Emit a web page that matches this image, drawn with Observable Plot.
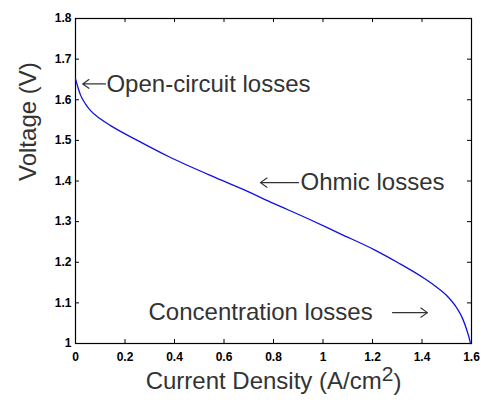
<!DOCTYPE html>
<html>
<head>
<meta charset="utf-8">
<script src="https://cdn.jsdelivr.net/npm/d3@7"></script>
<script src="https://cdn.jsdelivr.net/npm/@observablehq/plot@0.6"></script>
<style>
  html, body { margin: 0; padding: 0; background: #fff; }
  svg { display: block; }
</style>
</head>
<body>
<div id="chart"></div>
<script>
// Polarization curve
const current = [0, 0.01, 0.02, 0.04, 0.06, 0.10, 0.14, 0.25, 0.38, 0.59, 0.67, 0.80, 0.94, 1.07, 1.21, 1.30, 1.41, 1.45, 1.50, 1.54, 1.565, 1.58, 1.59, 1.596];
const voltage = [1.652, 1.630, 1.612, 1.590, 1.574, 1.553, 1.537, 1.500, 1.459, 1.402, 1.381, 1.345, 1.307, 1.270, 1.230, 1.200, 1.160, 1.143, 1.118, 1.088, 1.060, 1.035, 1.015, 1.0];

const xTicks = [0, 0.2, 0.4, 0.6, 0.8, 1, 1.2, 1.4, 1.6];
const xTickLabels = ["0", "0.2", "0.4", "0.6", "0.8", "1", "1.2", "1.4", "1.6"];
const yTicks = [1, 1.1, 1.2, 1.3, 1.4, 1.5, 1.6, 1.7, 1.8];
const yTickLabels = ["1", "1.1", "1.2", "1.3", "1.4", "1.5", "1.6", "1.7", "1.8"];

// Annotations: text anchor positions and arrow ends
const noteText = ["Open-circuit losses", "Ohmic losses", "Concentration losses"];
const noteX = [0.125, 0.909, 0.295];
const noteY = [1.639, 1.396, 1.076];
const arrowX1 = [0.121, 0.901, 1.281];
const arrowX2 = [0.029, 0.747, 1.422];
const arrowY = [1.639, 1.396, 1.076];

const curve = current.map((c, i) => ({c, v: voltage[i]}));
const notes = noteText.map((t, i) => ({t, x: noteX[i], y: noteY[i]}));
const arrows = arrowX1.map((x1, i) => ({x1, x2: arrowX2[i], y: arrowY[i]}));

const W = 482, H = 403;
const mL = 75, mR = 11, mT = 18, mB = 60;
const innerW = W - mL - mR, innerH = H - mT - mB;
const tick = 4;

const chart = Plot.plot({
  width: W,
  height: H,
  marginLeft: mL,
  marginRight: mR,
  marginTop: mT,
  marginBottom: mB,
  style: {fontFamily: "'Liberation Sans', Arial, sans-serif", background: "#fff"},
  x: {domain: [0, 1.6]},
  y: {domain: [1, 1.8]},
  marks: [
    // inward tick marks on all four sides
    Plot.ruleX(xTicks, {x: d => d, stroke: "#000", strokeWidth: 1, insetTop: innerH - tick}),
    Plot.ruleX(xTicks, {x: d => d, stroke: "#000", strokeWidth: 1, insetBottom: innerH - tick}),
    Plot.ruleY(yTicks, {y: d => d, stroke: "#000", strokeWidth: 1, insetRight: innerW - tick}),
    Plot.ruleY(yTicks, {y: d => d, stroke: "#000", strokeWidth: 1, insetLeft: innerW - tick}),
    Plot.frame({stroke: "#000", strokeWidth: 1.2}),
    Plot.axisX({ticks: xTicks, tickFormat: (d, i) => xTickLabels[i], tickSize: 0, tickPadding: 9, fontSize: 12, fontWeight: "bold", fill: "#000", label: null}),
    Plot.axisY({ticks: yTicks, tickFormat: (d, i) => yTickLabels[i], tickSize: 0, tickPadding: 4, fontSize: 12, fontWeight: "bold", fill: "#000", label: null}),
    Plot.line(curve, {x: "c", y: "v", stroke: "#1010e0", strokeWidth: 1.3, curve: "monotone-x"}),
    Plot.arrow(arrows, {x1: "x1", x2: "x2", y1: "y", y2: "y", stroke: "#333", strokeWidth: 1.2, headLength: 10, headAngle: 70}),
    Plot.text(notes, {x: "x", y: "y", text: "t", textAnchor: "start", fontSize: 24, fill: "#333", lineAnchor: "middle"}),
    Plot.text(["Voltage (V)"], {frameAnchor: "left", dx: -47, rotate: -90, fontSize: 24, fill: "#333", text: d => d}),
    Plot.text(["Current Density (A/cm"], {frameAnchor: "bottom", dy: 45, fontSize: 24, fill: "#333", text: d => d, className: "xtitle"})
  ]
});

document.getElementById("chart").appendChild(chart);

// add the raised superscript "2" and closing parenthesis to the x-axis title
const xt = d3.select(chart).select(".xtitle text");
if (!xt.empty()) {
  xt.append("tspan").attr("dy", "-0.35em").attr("font-size", 21).text("2");
  xt.append("tspan").attr("dy", "0.35em").text(")");
}
</script>
</body>
</html>
